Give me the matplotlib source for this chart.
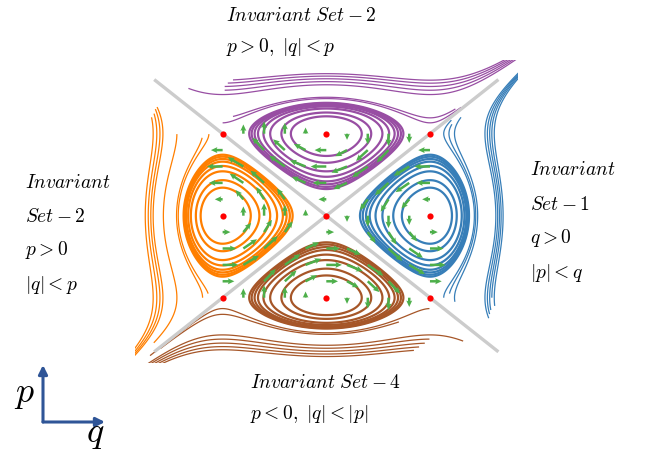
import numpy as np
import matplotlib.pyplot as plt
from matplotlib.patches import FancyArrowPatch

plt.rcParams['mathtext.fontset'] = 'cm'

W, Hpx = 657, 454

# colours of the four invariant sets
col_right = '#377eb8'
col_top = '#984ea3'
col_left = '#ff7f00'
col_bottom = '#a65628'
col_arrow = '#4daf4a'

# equilibria (red dots)
eq_q = [-1, 0, 1, -1, 0, 1, -1, 0, 1]
eq_p = [1, 1, 1, 0, 0, 0, -1, -1, -1]

# separatrix diagonals
diag_ends = [-1.66, 1.66]

# energy levels of closed orbits, H = Q(q) - Q(p), Q(x) = x^2/2 - x^4/4
closed_right = [0.195, 0.165, 0.125, 0.1, 0.08, 0.068, 0.058, 0.05]
closed_left = [0.195, 0.165, 0.125, 0.1, 0.08, 0.068, 0.058, 0.05]
closed_top = [-0.195, -0.165, -0.125, -0.1, -0.08, -0.068, -0.058, -0.05]
closed_bottom = [-0.195, -0.165, -0.125, -0.1, -0.08, -0.068, -0.058, -0.05]

# open trajectories: level, start, end (along p for left/right, along q for top/bottom)
open_right_lvl = [-0.02, -0.04, -0.07, -0.45, -0.5, -0.55, -0.6, -0.66]
open_right_lo = [-1.0, -0.95, -1.05, -1.25, -1.2, -1.15, -1.0, -1.1]
open_right_hi = [1.17, 1.12, 1.2, 1.85, 1.85, 1.85, 1.85, 1.85]

open_left_lvl = [-0.02, -0.045, -0.29, -0.55, -0.62, -0.7, -0.8]
open_left_lo = [-0.95, -1.0, -1.55, -1.75, -1.75, -1.75, -1.75]
open_left_hi = [1.0, 0.95, 1.0, 1.33, 1.3, 1.25, 1.2]

open_top_lvl = [0.02, 0.045, 0.35, 0.45, 0.55, 0.65, 0.75]
open_top_lo = [-1.0, -0.9, -1.33, -0.98, -0.98, -0.95, -0.9]
open_top_hi = [1.3, 1.25, 1.85, 1.85, 1.85, 1.85, 1.85]

open_bottom_lvl = [0.02, 0.05, 0.31, 0.4, 0.5, 0.6, 0.7]
open_bottom_lo = [-1.7, -1.6, -1.85, -1.85, -1.85, -1.85, -1.85]
open_bottom_hi = [1.0, 0.7, 1.32, 1.0, 0.95, 0.9, 0.85]

# quiver grid
grid_vals = [-1.0, -0.8, -0.6, -0.4, -0.2, 0.0, 0.2, 0.4, 0.6, 0.8, 1.0]


def Qf(x):
    return x ** 2 / 2 - x ** 4 / 4


g = np.linspace(-1.95, 1.95, 781)
QQ, PP = np.meshgrid(g, g)
HH = Qf(QQ) - Qf(PP)

wedges = {
    'right': QQ > np.abs(PP),
    'left': QQ < -np.abs(PP),
    'top': PP > np.abs(QQ),
    'bottom': PP < -np.abs(QQ),
}

fig = plt.figure(figsize=(W / 100, Hpx / 100), dpi=100)
ax = fig.add_axes([134.5 / W, 1 - 363.3 / Hpx, 383.6 / W, 303.4 / Hpx])
ax.set_xlim(-1.85, 1.85)
ax.set_ylim(-1.8, 1.9)
ax.axis('off')


def draw(mask, level, color, lw):
    Z = np.ma.masked_where(~mask, HH)
    ax.contour(QQ, PP, Z, levels=[level], colors=[color], linewidths=lw,
               linestyles='solid', zorder=1)


for name, levels, color in [('right', closed_right, col_right), ('left', closed_left, col_left),
                            ('top', closed_top, col_top), ('bottom', closed_bottom, col_bottom)]:
    for lv in levels:
        draw(wedges[name], lv, color, 1.6)

for name, lvls, los, his, color, along in [
        ('right', open_right_lvl, open_right_lo, open_right_hi, col_right, PP),
        ('left', open_left_lvl, open_left_lo, open_left_hi, col_left, PP),
        ('top', open_top_lvl, open_top_lo, open_top_hi, col_top, QQ),
        ('bottom', open_bottom_lvl, open_bottom_lo, open_bottom_hi, col_bottom, QQ)]:
    for lv, lo, hi in zip(lvls, los, his):
        m = wedges[name] & (along >= lo) & (along <= hi)
        draw(m, lv, color, 0.9)

# vector field arrows (the ones lying on the diagonals are hidden by the separatrices)
AQ, AP = np.meshgrid(grid_vals, grid_vals)
on_diag = np.isclose(np.abs(AQ), np.abs(AP))
U = np.where(on_diag, np.nan, -(AP - AP ** 3))
V = np.where(on_diag, np.nan, -(AQ - AQ ** 3))
ax.quiver(AQ, AP, U, V, color=col_arrow, angles='xy', scale_units='xy', scale=2.55,
          width=0.0065, headwidth=2.4, headlength=2.6, headaxislength=2.3, zorder=2)

# separatrices
ax.plot(diag_ends, diag_ends, color='#cccccc', lw=2.4, zorder=3, solid_capstyle='butt')
ax.plot(diag_ends, diag_ends[::-1], color='#cccccc', lw=2.4, zorder=3, solid_capstyle='butt')

ax.scatter(eq_q, eq_p, s=20, color='#ff0000', zorder=4, linewidths=0)


def ftext(x, y, s, size=14):
    fig.text(x / W, 1 - y / Hpx, s, fontsize=size, va='baseline', ha='left')


ftext(226, 21, r'$Invariant\ Set-2$')
ftext(226, 52, r'$p>0,\ |q|<p$')
ftext(25, 188, r'$Invariant$')
ftext(25, 222, r'$Set-2$')
ftext(25, 255, r'$p>0$')
ftext(25, 290, r'$|q|<p$')
ftext(530, 175, r'$Invariant$')
ftext(530, 210, r'$Set-1$')
ftext(530, 243, r'$q>0$')
ftext(530, 278, r'$|p|<q$')
ftext(250, 388, r'$Invariant\ Set-4$')
ftext(250, 419, r'$p<0,\ |q|<|p|$')

# p / q direction indicator
blue = '#2f5597'
for end in [(43, 365), (105, 422)]:
    fig.add_artist(FancyArrowPatch((43 / W, 1 - 422 / Hpx), (end[0] / W, 1 - end[1] / Hpx),
                                   transform=fig.transFigure, arrowstyle='-|>',
                                   mutation_scale=13, lw=2.2, color=blue, shrinkA=0, shrinkB=0))
ftext(14, 402, r'$p$', size=26)
ftext(86, 442, r'$q$', size=26)

plt.savefig('out.png', dpi=100)
